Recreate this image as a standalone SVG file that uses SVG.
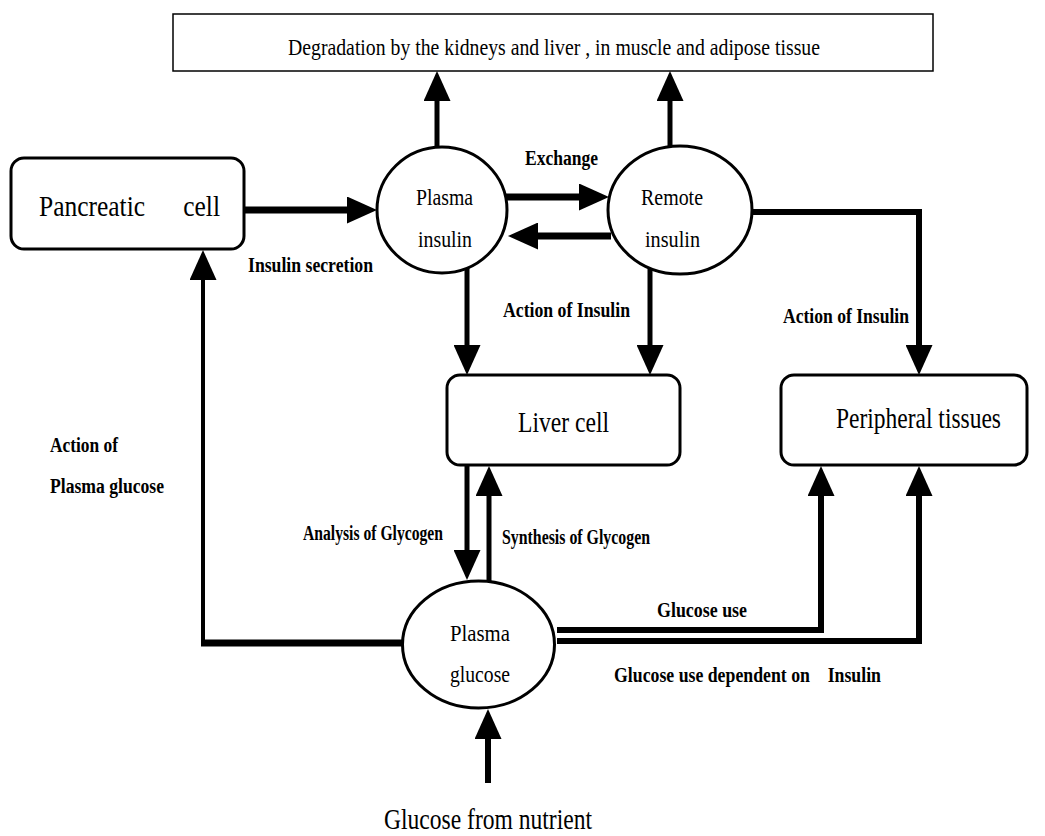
<svg xmlns="http://www.w3.org/2000/svg" width="1045" height="836" viewBox="0 0 1045 836">
  <style>
    .box { fill: #fff; stroke: #000; stroke-width: 3; }
    .top { fill: #fff; stroke: #000; stroke-width: 1.5; }
    .oval { fill: #fff; stroke: #000; stroke-width: 3; }
    .t { font-family: "Liberation Serif", "Times New Roman", serif; fill: #000; }
    .big { font-size: 29px; }
    .mid { font-size: 24px; }
    .lab { font-size: 20px; font-weight: bold; }
    .w { fill: none; stroke: #000; stroke-linejoin: miter; stroke-linecap: butt; }
  </style>
  <defs>
    <marker id="ah" viewBox="0 -13.5 30 27" refX="2" refY="0" markerWidth="30" markerHeight="27" markerUnits="userSpaceOnUse" orient="auto">
      <path d="M0,-13.5 L30,0 L0,13.5 z" fill="#000"/>
    </marker>
  </defs>
  <rect width="1045" height="836" fill="#fff"/>

  <!-- connectors -->
  <g id="connectors">
    <!-- insulin degradation -->
    <line class="w" x1="437" y1="148" x2="437" y2="99" stroke-width="5" marker-end="url(#ah)"/>
    <line class="w" x1="670" y1="147" x2="670" y2="99" stroke-width="5" marker-end="url(#ah)"/>
    <!-- insulin secretion -->
    <line class="w" x1="245" y1="210" x2="349" y2="210" stroke-width="7" marker-end="url(#ah)"/>
    <!-- exchange -->
    <line class="w" x1="506" y1="197" x2="581" y2="197" stroke-width="7" marker-end="url(#ah)"/>
    <line class="w" x1="611" y1="236" x2="536" y2="236" stroke-width="7" marker-end="url(#ah)"/>
    <!-- remote insulin to peripheral tissues -->
    <polyline class="w" points="752,212 919,212 919,347" stroke-width="6" marker-end="url(#ah)"/>
    <!-- action of insulin on liver -->
    <line class="w" x1="467" y1="268" x2="467" y2="347" stroke-width="5" marker-end="url(#ah)"/>
    <line class="w" x1="650" y1="269" x2="650" y2="347" stroke-width="5" marker-end="url(#ah)"/>
    <!-- plasma glucose feedback to pancreas -->
    <line class="w" x1="403" y1="643" x2="201" y2="643" stroke-width="7"/>
    <line class="w" x1="203" y1="646" x2="203" y2="278" stroke-width="4" marker-end="url(#ah)"/>
    <!-- glycogen -->
    <line class="w" x1="467" y1="465" x2="467" y2="552" stroke-width="5" marker-end="url(#ah)"/>
    <line class="w" x1="489" y1="582" x2="489" y2="494" stroke-width="5" marker-end="url(#ah)"/>
    <!-- glucose use -->
    <polyline class="w" points="557,630 821,630 821,494" stroke-width="6" marker-end="url(#ah)"/>
    <polyline class="w" points="557,641 919,641 919,494" stroke-width="6" marker-end="url(#ah)"/>
    <!-- nutrient intake -->
    <line class="w" x1="488" y1="783" x2="488" y2="737" stroke-width="6" marker-end="url(#ah)"/>
  </g>

  <g id="degradation">
    <rect class="top" x="173" y="14" width="760" height="57"/>
    <text class="t" x="288" y="55" font-size="23" textLength="532" lengthAdjust="spacingAndGlyphs">Degradation by the kidneys and liver , in muscle and adipose tissue</text>
  </g>

  <g id="pancreatic-cell">
    <rect class="box" x="11" y="158" width="233" height="91" rx="13"/>
    <text class="t big" x="39" y="216" textLength="181" lengthAdjust="spacingAndGlyphs" style="white-space:pre">Pancreatic      cell</text>
  </g>

  <g id="plasma-insulin">
    <ellipse class="oval" cx="442" cy="210" rx="65" ry="63"/>
    <text class="t mid" x="416" y="205" textLength="57" lengthAdjust="spacingAndGlyphs">Plasma</text>
    <text class="t mid" x="418" y="247" textLength="54" lengthAdjust="spacingAndGlyphs">insulin</text>
  </g>

  <g id="remote-insulin">
    <ellipse class="oval" cx="680" cy="210" rx="72" ry="64"/>
    <text class="t mid" x="641" y="205" textLength="62" lengthAdjust="spacingAndGlyphs">Remote</text>
    <text class="t mid" x="645" y="247" textLength="55" lengthAdjust="spacingAndGlyphs">insulin</text>
  </g>

  <g id="liver-cell">
    <rect class="box" x="447" y="375" width="233" height="90" rx="13"/>
    <text class="t big" x="518" y="432" textLength="91" lengthAdjust="spacingAndGlyphs">Liver cell</text>
  </g>

  <g id="peripheral-tissues">
    <rect class="box" x="781" y="375" width="246" height="90" rx="13"/>
    <text class="t big" x="836" y="428" textLength="165" lengthAdjust="spacingAndGlyphs">Peripheral tissues</text>
  </g>

  <g id="plasma-glucose">
    <ellipse class="oval" cx="478.5" cy="644.5" rx="76" ry="63.5"/>
    <text class="t mid" x="450" y="641" textLength="60" lengthAdjust="spacingAndGlyphs">Plasma</text>
    <text class="t mid" x="450" y="682" textLength="60" lengthAdjust="spacingAndGlyphs">glucose</text>
  </g>

  <g id="labels">
    <text class="t lab" x="525" y="165" textLength="73" lengthAdjust="spacingAndGlyphs">Exchange</text>
    <text class="t lab" x="248" y="272" textLength="125" lengthAdjust="spacingAndGlyphs">Insulin secretion</text>
    <text class="t lab" x="503" y="317" textLength="127" lengthAdjust="spacingAndGlyphs">Action of Insulin</text>
    <text class="t lab" x="783" y="323" textLength="126" lengthAdjust="spacingAndGlyphs">Action of Insulin</text>
    <text class="t lab" x="50" y="452" textLength="68" lengthAdjust="spacingAndGlyphs">Action of</text>
    <text class="t lab" x="50" y="493" textLength="114" lengthAdjust="spacingAndGlyphs">Plasma glucose</text>
    <text class="t lab" x="303" y="540" textLength="140" lengthAdjust="spacingAndGlyphs">Analysis of Glycogen</text>
    <text class="t lab" x="502" y="544" textLength="148" lengthAdjust="spacingAndGlyphs">Synthesis of Glycogen</text>
    <text class="t lab" x="657" y="617" textLength="90" lengthAdjust="spacingAndGlyphs">Glucose use</text>
    <text class="t lab" x="614" y="682" textLength="267" lengthAdjust="spacingAndGlyphs" style="white-space:pre">Glucose use dependent on    Insulin</text>
    <text class="t big" x="384" y="829" textLength="208" lengthAdjust="spacingAndGlyphs">Glucose from nutrient</text>
  </g>
</svg>
